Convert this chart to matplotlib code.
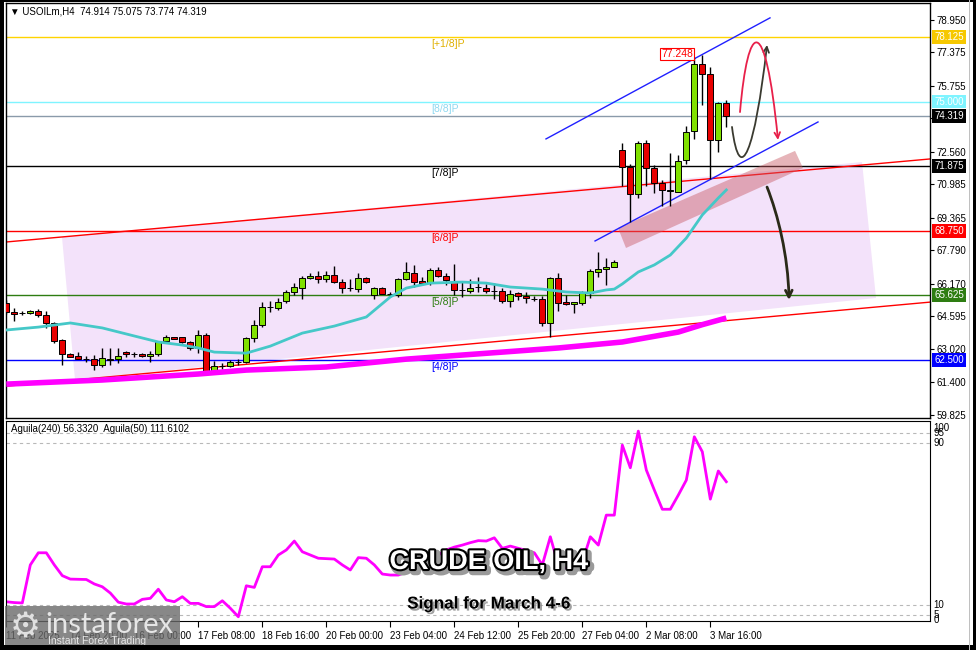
import matplotlib.pyplot as plt
import matplotlib.patheffects as pe
import matplotlib.transforms as mtransforms
from matplotlib.patches import Polygon, Rectangle, FancyArrowPatch
from matplotlib.path import Path

plt.rcParams['font.family'] = ['Liberation Sans', 'DejaVu Sans']

# ---------------- data (H4 candles) ----------------
opens = [65.24, 64.81, 64.76, 64.76, 64.86, 64.66, 64.28, 63.45, 62.78, 62.68,
         62.53, 62.53, 62.24, 62.55, 62.53, 62.87, 62.78, 62.78, 62.68, 62.78,
         63.41, 63.60, 63.60, 63.36, 63.07, 63.70, 61.90, 62.19, 62.19, 62.39,
         62.39, 63.55, 64.18, 65.05, 65.00, 65.34, 65.78, 65.97, 66.46, 66.55,
         66.41, 66.60, 66.26, 65.97, 65.92, 66.46, 65.63, 65.97, 65.68, 65.63,
         66.41, 66.70, 66.31, 66.21, 66.85, 66.55, 66.26, 65.88, 65.83, 66.02,
         65.97, 65.83, 65.83, 65.34, 65.73, 65.59, 65.44, 65.44, 64.28, 66.46,
         65.29, 65.20, 65.24, 65.73, 66.75, 66.89, 66.99, 72.66, 71.83, 70.52,
         72.99, 71.78, 71.06, 70.67, 70.62, 72.17, 73.58, 76.82, 76.34, 73.14,
         74.914]
highs = [65.39, 65.00, 64.86, 64.91, 64.95, 64.86, 64.33, 63.50, 62.82, 62.87,
         62.68, 62.73, 63.07, 63.07, 63.07, 62.92, 62.87, 62.82, 62.92, 63.41,
         63.70, 63.62, 63.62, 63.41, 63.94, 63.79, 62.44, 62.34, 62.48, 62.53,
         63.60, 64.42, 65.29, 65.34, 65.49, 65.88, 66.21, 66.55, 66.70, 66.80,
         66.80, 67.04, 66.41, 66.41, 66.70, 66.50, 66.02, 66.02, 65.78, 66.46,
         67.23, 67.09, 66.50, 66.94, 66.99, 66.70, 67.14, 66.26, 66.41, 66.50,
         66.17, 66.21, 65.97, 65.88, 65.78, 65.78, 65.59, 65.59, 66.50, 66.70,
         65.63, 65.29, 65.83, 66.89, 67.72, 67.43, 67.33, 72.99, 71.98, 73.09,
         73.14, 71.93, 71.20, 72.51, 72.41, 73.82, 77.16, 77.248, 76.67, 74.98,
         75.075]
lows = [64.71, 64.37, 64.66, 64.71, 64.57, 64.04, 63.31, 62.24, 62.63, 62.53,
        62.39, 62.00, 62.15, 62.24, 62.34, 62.63, 62.63, 62.63, 62.39, 62.68,
        63.31, 63.50, 63.31, 62.97, 62.82, 61.76, 61.81, 62.05, 62.15, 62.24,
        62.34, 63.36, 64.08, 64.81, 64.91, 65.24, 65.63, 65.44, 66.41, 66.21,
        66.26, 66.21, 65.73, 65.83, 65.78, 66.21, 65.44, 65.68, 65.54, 65.54,
        66.36, 66.02, 66.17, 66.12, 66.50, 66.12, 65.63, 65.54, 65.73, 65.78,
        65.73, 65.44, 65.24, 65.05, 65.39, 65.24, 65.34, 64.13, 63.60, 64.86,
        65.15, 64.76, 65.15, 65.49, 66.50, 66.12, 66.99, 70.91, 69.17, 70.33,
        70.91, 70.57, 69.94, 69.94, 70.62, 71.98, 73.19, 74.83, 71.25, 72.56,
        73.774]
closes = [64.81, 64.71, 64.76, 64.86, 64.66, 64.28, 63.41, 62.78, 62.63, 62.53,
          62.53, 62.24, 62.58, 62.51, 62.68, 62.78, 62.78, 62.68, 62.78, 63.36,
          63.60, 63.50, 63.36, 63.07, 63.70, 61.90, 62.19, 62.19, 62.39, 62.39,
          63.55, 64.18, 65.05, 65.05, 65.29, 65.78, 66.02, 66.46, 66.55, 66.41,
          66.60, 66.26, 65.97, 65.97, 66.46, 66.26, 65.97, 65.68, 65.68, 66.41,
          66.75, 66.26, 66.21, 66.85, 66.55, 66.36, 65.88, 65.88, 65.97, 66.02,
          65.83, 65.83, 65.34, 65.68, 65.59, 65.49, 65.44, 64.28, 66.46, 65.24,
          65.20, 65.29, 65.73, 66.80, 66.89, 66.99, 67.23, 71.83, 70.52, 72.99,
          71.78, 71.06, 70.72, 70.70, 72.12, 73.53, 76.82, 76.34, 73.14, 74.93,
          74.319]

# fast MA (turquoise) and slow MA (magenta), bar index -> price
ma_fast_idx = [0, 4, 8, 12, 16, 19, 22, 24, 26, 30, 33, 37, 41, 45, 48, 50, 53,
               57, 60, 63, 67, 70, 73, 75, 76, 77, 79, 81, 83, 85, 87, 89, 90]
ma_fast_val = [63.94, 64.08, 64.28, 64.04, 63.65, 63.36, 63.21, 63.07, 62.87,
               62.82, 63.16, 63.79, 64.13, 64.57, 65.54, 65.97, 66.21, 66.26,
               66.21, 66.02, 65.92, 65.78, 65.73, 65.88, 65.92, 66.17, 66.75,
               67.09, 67.57, 68.39, 69.51, 70.33, 70.72]
ma_slow_idx = [0, 12, 24, 30, 40, 50, 62, 69, 77, 84, 87, 90]
ma_slow_val = [61.32, 61.52, 61.81, 62.00, 62.15, 62.53, 62.87, 63.07, 63.36,
               63.84, 64.20, 64.52]

# Aguila oscillator
aguila = [11.6, 11.2, 11.0, 29.8, 35.8, 35.8, 29.8, 24.5, 22.8, 22.7,
          22.6, 20.4, 19.0, 15.9, 11.4, 10.5, 10.5, 12.8, 13.3, 17.8,
          12.5, 11.6, 14.1, 10.8, 10.8, 9.2, 9.2, 12.1, 8.4, 4.2,
          19.5, 18.7, 28.9, 28.9, 34.7, 37.2, 41.6, 36.3, 34.7, 33.1,
          32.9, 32.7, 29.8, 27.3, 33.4, 33.1, 29.8, 25.3, 24.8, 24.8,
          26.3, 27.3, 28.3, 32.2, 34.7, 37.2, 38.6, 39.6, 40.8, 41.8,
          41.6, 43.2, 38.0, 39.1, 38.0, 36.9, 35.8, 29.8, 43.7, 29.8,
          28.3, 28.3, 31.2, 43.7, 39.6, 54.4, 54.4, 89.0, 77.8, 95.9,
          76.7, 66.8, 57.3, 57.3, 64.3, 71.7, 93.1, 85.7, 62.3, 76.2,
          70.9]

# Murrey math levels
murrey_levels = [78.125, 75.000, 71.875, 68.750, 65.625, 62.500]
murrey_names = ['[+1/8]P', '[8/8]P', '[7/8]P', '[6/8]P', '[5/8]P', '[4/8]P']
murrey_colors = ['#ffd400', '#7ff4ff', '#000000', '#ff0000', '#2e7d12', '#0000ff']
murrey_text = ['#e0b000', '#8fd8f0', '#000000', '#ff0000', '#2e7d12', '#0000ff']
last_price = 74.319

price_ticks = [78.950, 77.375, 75.755, 74.180, 72.560, 70.985, 69.365,
               67.790, 66.170, 64.595, 63.020, 61.400, 59.825]
time_tick_idx = [0, 8, 16, 24, 32, 40, 48, 56, 64, 72, 80, 88]
time_labels = ['11 Feb 2025', '14 Feb 20:00', '16 Feb 00:00', '17 Feb 08:00',
               '18 Feb 16:00', '20 Feb 00:00', '23 Feb 04:00', '24 Feb 12:00',
               '25 Feb 20:00', '27 Feb 04:00', '2 Mar 08:00', '3 Mar 16:00']

# drawn objects (bar index, price)
red_chan_x = [-0.04, 115.46]
red_chan_top = [68.20, 72.22]
red_chan_bot = [61.22, 65.29]
zone_x = [6.96, 106.96, 108.71, 8.59]
zone_y = [68.44, 72.07, 65.49, 61.52]
box_x = [76.46, 98.59, 99.59, 77.46]
box_y = [68.88, 72.61, 71.78, 67.91]
blue_top_x, blue_top_y = [67.46, 95.46], [73.19, 79.05]
blue_bot_x, blue_bot_y = [73.59, 101.46], [68.25, 74.01]
u_arrow = [(90.71, 73.77), (91.71, 70.72), (93.59, 72.65), (95.09, 77.74)]
n_arrow = [(91.71, 74.49), (92.71, 78.95), (94.84, 79.43), (96.46, 73.14)]
down_arrow = [(95.09, 70.86), (96.46, 69.51), (97.71, 67.57), (97.84, 65.39)]

# ---------------- figure ----------------
W, H = 976.0, 650.0
fig = plt.figure(figsize=(9.76, 6.5), dpi=100, facecolor='white')


def px_box(x0, y0, x1, y1):
    return [x0 / W, 1 - y1 / H, (x1 - x0) / W, (y1 - y0) / H]


ax = fig.add_axes(px_box(6, 3, 930, 418))
ax2 = fig.add_axes(px_box(6, 421, 930, 621), sharex=ax)
ax.set_xlim(-0.04, 115.46)
ax.set_ylim(59.68, 79.77)

# channel zone + lines
ax.add_patch(Polygon(list(zip(zone_x, zone_y)), closed=True, fc='#f3e2fa', ec='none', zorder=0.5))
ax.plot(red_chan_x, red_chan_top, color='#ff0000', lw=1, zorder=1.5)
ax.plot(red_chan_x, red_chan_bot, color='#ff0000', lw=1, zorder=1.5)
ax.add_patch(Polygon(list(zip(box_x, box_y)), closed=True, fc='#c85a64', alpha=0.45, ec='none', zorder=2))

for lv, name, c, tc in zip(murrey_levels, murrey_names, murrey_colors, murrey_text):
    ax.axhline(lv, color=c, lw=1, zorder=1)
    ax.annotate(name, xy=(53.1, lv), xytext=(0, -1.5), textcoords='offset points',
                ha='left', va='top', fontsize=7.5, color=tc, zorder=6)
ax.axhline(last_price, color='#8a9aaa', lw=1, zorder=1)

ax.plot(blue_top_x, blue_top_y, color='#2020ff', lw=1, zorder=2.5)
ax.plot(blue_bot_x, blue_bot_y, color='#2020ff', lw=1, zorder=2.5)

# candles
idx = list(range(len(opens)))
body_lo = [min(o, c) for o, c in zip(opens, closes)]
body_h = [abs(c - o) for o, c in zip(opens, closes)]
cols = ['#80e000' if c > o else ('#e80000' if c < o else 'black') for o, c in zip(opens, closes)]
ax.vlines(idx, lows, highs, color='black', lw=1, zorder=3)
ax.bar(idx, body_h, bottom=body_lo, width=0.72, color=cols, edgecolor='black', lw=0.7, zorder=4)

# moving averages
ax.plot(ma_slow_idx, ma_slow_val, color='#ff00ff', lw=4, zorder=5, solid_capstyle='butt')
ax.plot(ma_fast_idx, ma_fast_val, color='#45c8c8', lw=2, zorder=5)

# high label
ax.text(83.84, 77.30, '77.248', fontsize=7.5, color='#ff0000', ha='center', va='center',
        bbox=dict(boxstyle='square,pad=0.12', fc='white', ec='#ff0000', lw=0.8), zorder=7)

# forecast arrows
codes = [Path.MOVETO, Path.CURVE4, Path.CURVE4, Path.CURVE4]
ax.add_patch(FancyArrowPatch(path=Path(u_arrow, codes), arrowstyle='->', color='#3a3a30',
                             lw=1.3, mutation_scale=10, zorder=8))
ax.add_patch(FancyArrowPatch(path=Path(n_arrow, codes), arrowstyle='->', color='#e8204a',
                             lw=1.3, mutation_scale=10, zorder=8))
ax.add_patch(FancyArrowPatch(path=Path(down_arrow, codes), arrowstyle='->', color='#2a2a18',
                             lw=2, mutation_scale=12, zorder=8))

# price axis on the right
ax.yaxis.tick_right()
ax.set_yticks(price_ticks)
ax.set_yticklabels([f'{t:.3f}' for t in price_ticks])
ax.tick_params(axis='y', length=3, width=0.8, labelsize=7, pad=2)
ax.tick_params(axis='x', bottom=False, labelbottom=False)
trans = mtransforms.blended_transform_factory(ax.transAxes, ax.transData)
tag_vals = murrey_levels[:2] + [last_price] + murrey_levels[2:]
tag_cols = ['#f6c800', '#7ff4ff', '#000000', '#000000', '#ff0000', '#2e7d12', '#0000ff']
for v, bg in zip(tag_vals, tag_cols):
    ax.text(1.0045, v, f'{v:.3f}', transform=trans, fontsize=7, color='white', ha='left',
            va='center', bbox=dict(boxstyle='square,pad=0.2', fc=bg, ec='none'),
            clip_on=False, zorder=10)
for s in ax.spines.values():
    s.set_linewidth(1)

# indicator panel
ax2.set_ylim(2.1, 100.9)
for g in [95, 90, 10, 5]:
    ax2.axhline(g, color='#b8b8b8', lw=0.8, ls=(0, (3, 3)))
ax2.plot(idx, aguila, color='#ff00ff', lw=2)
ax2.set_yticks([])
trans2 = mtransforms.blended_transform_factory(ax2.transAxes, ax2.transData)
for v, va in [(100, 'top'), (95, 'center'), (90, 'center'), (10, 'center'), (5, 'center'), (0, 'bottom')]:
    ax2.text(1.004, v, str(v), transform=trans2, fontsize=7, ha='left', va=va, clip_on=False)
ax2.set_xticks(time_tick_idx)
ax2.set_xticklabels(time_labels)
plt.setp(ax2.get_xticklabels(), ha='left')
ax2.tick_params(axis='x', length=4, width=0.8, labelsize=7, pad=3)
ax2.set_xlim(-0.04, 115.46)
ax2.text(0.005, 0.985, 'Aguila(240) 56.3320  Aguila(50) 111.6102', transform=ax2.transAxes,
         fontsize=7, ha='left', va='top')

# header
fig.text(10 / W, 1 - 12 / H, '\u25bc USOILm,H4  74.914 75.075 73.774 74.319', fontsize=7,
         ha='left', va='center')

# titles
fig.text(489 / W, 1 - 562 / H, 'CRUDE OIL, H4', fontsize=19.5, fontweight='bold', color='white',
         ha='center', va='center', zorder=20,
         path_effects=[pe.Stroke(linewidth=5, foreground='#9a9a9a', offset=(2, -2)),
                       pe.Stroke(linewidth=3, foreground='black'), pe.Normal()])
fig.text(489 / W, 1 - 604 / H, 'Signal for March 4-6', fontsize=12.3, fontweight='bold',
         color='black', ha='center', va='center', zorder=20,
         path_effects=[pe.withSimplePatchShadow(offset=(1.5, -1.5), shadow_rgbFace='#888888', alpha=0.8)])

# logo
fig.add_artist(Rectangle((5 / W, 1 - 648 / H), 175 / W, 42 / H, transform=fig.transFigure,
                         fc='#6a6a6a', ec='none', alpha=0.8, zorder=30))
fig.text(25 / W, 1 - 627 / H, '\u2699', fontsize=25, color='#e0e0e0', ha='center', va='center',
         family=['DejaVu Sans'], zorder=31)
fig.text(45 / W, 1 - 625 / H, 'instaforex', fontsize=21, color='#e6e6e6', ha='left', va='center',
         family=['Lato', 'DejaVu Sans'], zorder=31)
fig.text(48 / W, 1 - 641 / H, 'Instant Forex Trading', fontsize=7.5, color='#e6e6e6', ha='left',
         va='center', zorder=31)

# outer frame
for r in [(0, 0, 4, 650), (0, 0, 976, 2), (0, 645, 976, 5), (973, 0, 3, 650)]:
    fig.add_artist(Rectangle((r[0] / W, 1 - (r[1] + r[3]) / H), r[2] / W, r[3] / H,
                             transform=fig.transFigure, fc='black', ec='none', zorder=40))
fig.add_artist(Rectangle((969 / W, 0), 1 / W, 1, transform=fig.transFigure, fc='#c0c0c0',
                         ec='none', zorder=40))

fig.savefig('out.png', dpi=100)
